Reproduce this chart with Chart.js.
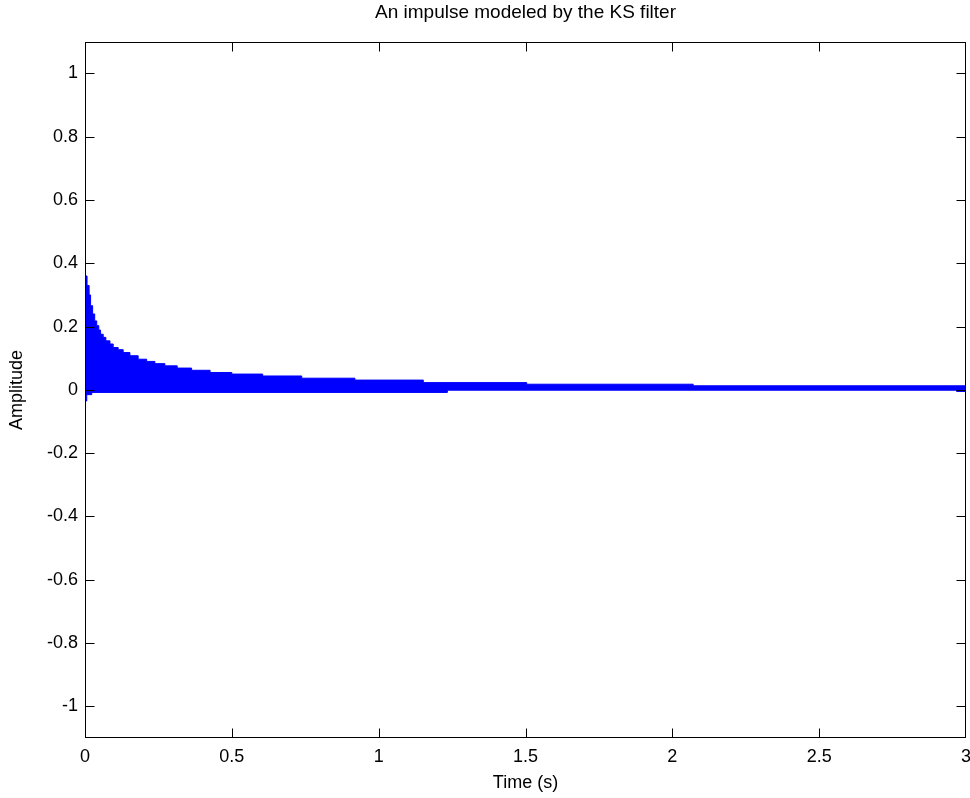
<!DOCTYPE html>
<html>
<head>
<meta charset="utf-8">
<title>KS filter impulse</title>
<script src="https://cdn.jsdelivr.net/npm/chart.js@4.4.1/dist/chart.umd.min.js"></script>
<style>
    html, body { margin: 0; padding: 0; background: #ffffff; }
    #wrap { width: 970px; height: 798px; }
</style>
</head>
<body>
<div id="wrap"><canvas id="ksChart" width="970" height="798"></canvas></div>
<script>
// Upper envelope of the impulse response (step breakpoints)
const upperTime = [0, 0.007, 0.014, 0.019, 0.026, 0.033, 0.040, 0.047, 0.053, 0.062, 0.071,
    0.085, 0.096, 0.113, 0.130, 0.153, 0.181, 0.210, 0.238, 0.272, 0.314,
    0.363, 0.426, 0.500, 0.605, 0.738, 0.919, 1.152, 1.504, 2.071, 3.0];
const upperAmp = [0.360, 0.330, 0.300, 0.266, 0.240, 0.218, 0.203, 0.189, 0.176, 0.166, 0.155,
    0.145, 0.134, 0.127, 0.118, 0.108, 0.097, 0.090, 0.083, 0.076, 0.069,
    0.062, 0.055, 0.050, 0.044, 0.037, 0.031, 0.023, 0.018, 0.013, 0.013];

// Lower envelope
const lowerTime = [0, 0.006, 0.023, 1.234, 2.968, 3.0];
const lowerAmp = [-0.035, -0.015, -0.008, -0.001, -0.005, -0.005];

// Tick labels
const xTicks = [0, 0.5, 1, 1.5, 2, 2.5, 3];
const yTicks = [-1, -0.8, -0.6, -0.4, -0.2, 0, 0.2, 0.4, 0.6, 0.8, 1];

const FONT = '"Liberation Sans", Arial, Helvetica, sans-serif';
const BLUE = '#0000ff';

function toPoints(ts, vs) {
    return ts.map((t, i) => ({ x: t, y: vs[i] }));
}

// MATLAB style box with inward ticks on all four sides
const boxPlugin = {
    id: 'matlabBox',
    afterDraw(chart) {
        const ctx = chart.ctx;
        const a = chart.chartArea;
        const xs = chart.scales.x;
        const ys = chart.scales.y;
        const len = 9;
        const l = Math.round(a.left) + 0.5;
        const r = Math.round(a.right) - 0.5;
        const t = Math.round(a.top) + 0.5;
        const b = Math.round(a.bottom) - 0.5;
        ctx.save();
        ctx.strokeStyle = '#000000';
        ctx.lineWidth = 1;
        ctx.strokeRect(l, t, r - l, b - t);
        ctx.beginPath();
        xTicks.forEach(v => {
            const px = Math.min(r, Math.max(l, Math.round(xs.getPixelForValue(v)) + 0.5));
            ctx.moveTo(px, b);
            ctx.lineTo(px, b - len);
            ctx.moveTo(px, t);
            ctx.lineTo(px, t + len);
        });
        yTicks.forEach(v => {
            const py = Math.min(b, Math.max(t, Math.round(ys.getPixelForValue(v)) + 0.5));
            ctx.moveTo(l, py);
            ctx.lineTo(l + len, py);
            ctx.moveTo(r, py);
            ctx.lineTo(r - len, py);
        });
        ctx.stroke();
        ctx.restore();
    }
};

function initializeChart() {
    const ctx = document.getElementById('ksChart').getContext('2d');
    return new Chart(ctx, {
        type: 'line',
        data: {
            datasets: [{
                label: 'upper',
                data: toPoints(upperTime, upperAmp),
                borderColor: BLUE,
                backgroundColor: BLUE,
                borderWidth: 1,
                stepped: true,
                pointRadius: 0,
                fill: 'origin'
            }, {
                label: 'lower',
                data: toPoints(lowerTime, lowerAmp),
                borderColor: BLUE,
                backgroundColor: BLUE,
                borderWidth: 1,
                stepped: true,
                pointRadius: 0,
                fill: 'origin'
            }]
        },
        options: {
            responsive: false,
            animation: false,
            layout: { padding: { left: 0, right: 4, top: 0, bottom: 0 } },
            plugins: {
                legend: { display: false },
                tooltip: { enabled: false },
                title: {
                    display: true,
                    text: 'An impulse modeled by the KS filter',
                    color: '#000000',
                    fullSize: false,
                    font: { family: FONT, size: 19, weight: 'normal' },
                    padding: { top: 1, bottom: 18 }
                }
            },
            scales: {
                x: {
                    type: 'linear',
                    min: 0,
                    max: 3,
                    grid: { display: false, drawTicks: false },
                    border: { display: false },
                    afterBuildTicks: axis => { axis.ticks = xTicks.map(v => ({ value: v })); },
                    afterFit: axis => {
                        axis.height = 60;
                        axis.paddingLeft = 0;
                        axis.paddingRight = 0;
                    },
                    ticks: {
                        color: '#000000',
                        padding: 8,
                        maxRotation: 0,
                        autoSkip: false,
                        font: { family: FONT, size: 18 },
                        callback: v => String(Number(v.toFixed(1)))
                    },
                    title: {
                        display: true,
                        text: 'Time (s)',
                        color: '#000000',
                        font: { family: FONT, size: 18 },
                        padding: { top: 6, bottom: 4 }
                    }
                },
                y: {
                    type: 'linear',
                    min: -1.1,
                    max: 1.1,
                    grid: { display: false, drawTicks: false },
                    border: { display: false },
                    afterBuildTicks: axis => { axis.ticks = yTicks.map(v => ({ value: v })); },
                    afterFit: axis => { axis.width = 85; },
                    ticks: {
                        color: '#000000',
                        padding: 7,
                        autoSkip: false,
                        font: { family: FONT, size: 18 },
                        callback: v => String(Number(v.toFixed(1)))
                    },
                    title: {
                        display: true,
                        text: 'Amplitude',
                        color: '#000000',
                        font: { family: FONT, size: 18 },
                        padding: { top: 6, bottom: 6 }
                    }
                }
            }
        },
        plugins: [boxPlugin]
    });
}

document.addEventListener('DOMContentLoaded', function() {
    initializeChart();
});
</script>
</body>
</html>
